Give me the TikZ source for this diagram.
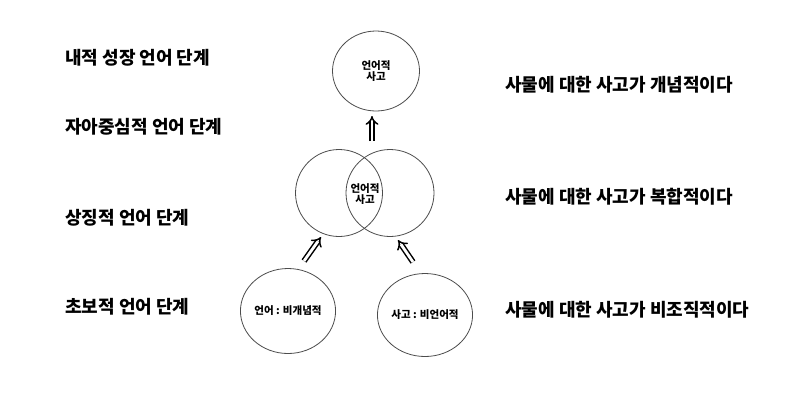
\documentclass[tikz,border=0pt]{standalone}
\usepackage{fontspec}
\setmainfont{Noto Sans CJK KR}[BoldFont={Noto Sans CJK KR Black}]
\usetikzlibrary{shapes.geometric, arrows.meta}

\begin{document}
\begin{tikzpicture}[x=1pt, y=-1pt,
  every circle/.style={ellipse, draw=black!70, line width=0.8pt, inner sep=0pt,
    align=center, font=\fontsize{10.5}{10.5}\selectfont\bfseries},
  stage text/.style={anchor=west, inner sep=0pt, font=\fontsize{18}{20}\selectfont\bfseries},
  lift/.style={double, double distance=2.8pt, line width=1.5pt, -{Implies}}]

\useasboundingbox (0,0) rectangle (800,400);

\foreach \l/\y [count=\i] in {내적 성장 언어 단계/58, 자아중심적 언어 단계/127, 상징적 언어 단계/218, 초보적 언어 단계/307}
  \node [stage text] (stage-\i) at (65,\y) {\l};

\foreach \l/\y [count=\i] in {개념적이다/85, 복합적이다/197, 비조직적이다/310}
  \node [stage text] (thought-\i) at (505,\y) {사물에 대한 사고가 \l};

\node [every circle, minimum width=87, minimum height=80] (top) at (376,71) {언어적\\사고};

\node [every circle, minimum width=87, minimum height=87] (mid-1) at (339,193) {};
\node [every circle, minimum width=88, minimum height=87] (mid-2) at (390,193) {};
\node [every circle, draw=none] (mid) at (365,194) {언어적\\사고};

\node [every circle, minimum width=90, minimum height=85] (low-1) at (288,311) {언어 : 비개념적};
\node [every circle, minimum width=88, minimum height=83] (low-2) at (425,315) {사고 : 비언어적};

\coordinate (up-0) at (372,141);
\coordinate (up-1) at (372,116);
\coordinate (left-0) at (304,261);
\coordinate (left-1) at (321,237);
\coordinate (right-0) at (413,262);
\coordinate (right-1) at (398,240);

\foreach \a in {up, left, right}
  \draw [lift] (\a-0) -- (\a-1);

\end{tikzpicture}
\end{document}
